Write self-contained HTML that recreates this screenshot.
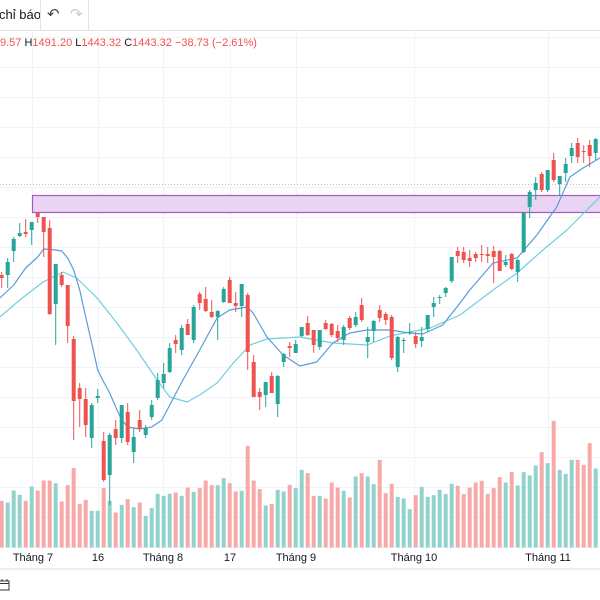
<!DOCTYPE html>
<html><head><meta charset="utf-8">
<style>
html,body{margin:0;padding:0;background:#fff;width:600px;height:600px;overflow:hidden;font-family:"Liberation Sans","Noto Sans CJK SC",sans-serif;}
#root{position:relative;width:600px;height:600px;}
.tb{position:absolute;left:0;top:0;width:600px;height:30px;border-bottom:1px solid #e0e3eb;}
.ohlc{position:absolute;left:0;top:37px;font-size:11px;color:#131722;white-space:nowrap;}
.ohlc .v{color:#ef5350;}
.ax{position:absolute;top:552px;font-size:11px;color:#131722;transform:translateX(-50%);white-space:nowrap;}
</style></head>
<body>
<div id="root">
  <div class="tb">
    <span style="position:absolute;left:-1px;top:7px;font-size:13px;color:#131722;">chỉ báo</span>
    <div style="position:absolute;left:40px;top:0;width:1px;height:30px;background:#e0e3eb;"></div>
    <span style="position:absolute;left:47px;top:5px;font-size:15px;color:#444;">↶</span>
    <span style="position:absolute;left:70px;top:5px;font-size:15px;color:#c8cbd2;">↷</span>
    <div style="position:absolute;left:88px;top:0;width:1px;height:30px;background:#e0e3eb;"></div>
  </div>
  <svg id="chart" width="600" height="600" style="position:absolute;left:0;top:0;">
    <g id="grid"></g>
    <line x1="0" x2="600" y1="184.5" y2="184.5" stroke="#f4a6a5" stroke-dasharray="1,2" stroke-width="1"/>
    <g id="vol"></g>
    <rect x="32.5" y="195.5" width="580" height="17" fill="#ead4f3" stroke="#a45ac4" stroke-width="1.2"/>
    <g id="ma"></g>
    <g id="candles"></g>
    <line x1="0" x2="600" y1="569" y2="569" stroke="#eceef2" stroke-width="2"/>
  </svg>
  <div class="ohlc"><span class="v">9.57</span> H<span class="v">1491.20</span> L<span class="v">1443.32</span> C<span class="v">1443.32</span> <span class="v">−38.73 (−2.61%)</span></div>
  <div class="ax" style="left:33px">Tháng 7</div>
  <div class="ax" style="left:98px">16</div>
  <div class="ax" style="left:163px">Tháng 8</div>
  <div class="ax" style="left:230px">17</div>
  <div class="ax" style="left:296px">Tháng 9</div>
  <div class="ax" style="left:414px">Tháng 10</div>
  <div class="ax" style="left:548px">Tháng 11</div>
  <svg width="14" height="14" style="position:absolute;left:-2px;top:578px;">
    <rect x="1" y="3" width="10" height="9" fill="none" stroke="#333" stroke-width="1"/>
    <line x1="1" x2="11" y1="5.5" y2="5.5" stroke="#333"/>
    <line x1="4" x2="4" y1="1" y2="3.5" stroke="#333"/><line x1="9" x2="9" y1="1" y2="3.5" stroke="#333"/>
  </svg>
</div>
<script>
const opens  = [1352,1352,1376,1391,1395,1397,1414,1410,1399,1323,1352,1342,1288,1239,1228,1189,1229,1186,1152,1198,1189,1215,1175,1207,1192,1210,1229,1244,1255,1287,1277,1303,1287,1333,1328,1315,1310,1325,1347,1324,1321,1332,1265,1235,1232,1251,1223,1265,1281,1274,1291,1304,1297,1280,1304,1303,1296,1287,1309,1302,1322,1285,1296,1317,1313,1310,1260,1286,1294,1291,1286,1298,1320,1329,1334,1346,1376,1375,1369,1373,1373,1373,1376,1376,1362,1373,1355,1375,1420,1437,1453,1437,1467,1443,1454,1471,1484,1476,1482,1474];
const highs  = [1355,1369,1390,1404,1408,1405,1415,1410,1407,1363,1355,1342,1291,1244,1239,1224,1238,1195,1194,1207,1222,1224,1199,1217,1202,1227,1254,1264,1284,1292,1302,1308,1322,1335,1340,1327,1317,1340,1350,1335,1343,1334,1272,1239,1245,1255,1252,1274,1285,1287,1300,1311,1297,1297,1307,1304,1302,1302,1311,1315,1329,1300,1307,1322,1315,1312,1291,1289,1304,1295,1300,1312,1330,1332,1340,1370,1380,1380,1377,1375,1382,1380,1381,1377,1372,1374,1368,1414,1437,1450,1455,1457,1474,1451,1469,1484,1489,1482,1487,1489];
const lows   = [1339,1339,1365,1390,1390,1382,1404,1370,1312,1282,1340,1284,1187,1200,1190,1179,1224,1145,1122,1182,1184,1182,1164,1195,1189,1207,1227,1239,1254,1274,1272,1292,1284,1317,1315,1309,1287,1324,1324,1315,1310,1257,1230,1217,1220,1234,1210,1260,1270,1274,1290,1291,1274,1277,1297,1290,1285,1282,1297,1300,1305,1269,1285,1305,1302,1267,1255,1274,1292,1279,1280,1295,1310,1323,1330,1344,1364,1364,1360,1365,1365,1364,1344,1356,1360,1357,1345,1374,1409,1427,1435,1435,1445,1432,1445,1464,1464,1464,1460,1467];
const closes = [1349,1365,1388,1394,1393,1405,1410,1395,1313,1363,1342,1301,1226,1228,1202,1222,1231,1147,1192,1189,1222,1185,1190,1198,1199,1222,1247,1253,1279,1283,1299,1292,1320,1324,1316,1310,1316,1338,1324,1321,1343,1275,1230,1230,1245,1234,1251,1273,1279,1283,1300,1292,1282,1297,1298,1292,1289,1300,1299,1310,1307,1290,1306,1309,1307,1269,1290,1287,1295,1283,1290,1312,1324,1330,1339,1370,1371,1367,1366,1369,1372,1371,1370,1356,1365,1358,1367,1414,1435,1444,1437,1457,1447,1451,1463,1479,1470,1475,1471,1488];
const volumes = [140,135,171,158,140,183,171,201,201,193,138,187,238,131,143,110,110,178,140,105,128,145,121,135,95,118,161,155,161,165,155,180,167,178,201,187,187,208,193,168,170,305,201,175,126,131,173,168,188,178,233,223,155,155,147,195,180,170,150,213,223,213,190,263,163,191,152,147,115,157,182,152,157,173,160,191,185,160,180,195,200,161,178,211,195,227,186,226,216,246,286,253,380,233,221,263,263,248,313,237];
const maFastIdx = [-0.3,2,4,6,7,9,10,11,12,13,14,15,16,17,18,19,20,21,23,25,26.7,30.2,33,35.9,38,40.9,41.9,44.2,46.9,49.7,52.5,55.2,58,60.9,64.7,68,70.2,73.5,76.4,78,81.9,85.9,89.2,92.5,94.7,96.9,99.7];
const maFastVal = [1329,1342,1359,1370,1378,1377,1376,1369,1357,1337,1310,1284,1257,1245,1234,1220,1207,1200,1198,1200,1207,1247,1277,1309,1317,1320,1314,1290,1272,1261,1265,1284,1294,1297,1297,1294,1293,1302,1324,1337,1364,1369,1392,1420,1450,1459,1469];
const maSlowIdx = [-0.3,3,6.9,10.2,12.5,15.9,19.2,22.5,25.9,28,30.9,33,35.9,38.6,41.4,44.2,49.7,55.2,60.9,64.7,71.4,76.4,81.9,85.9,90.2,94.2,99.7];
const maSlowVal = [1310,1327,1345,1355,1349,1329,1304,1277,1247,1230,1225,1232,1244,1264,1282,1288,1290,1284,1282,1291,1299,1312,1337,1354,1377,1397,1430];

const NS = 'http://www.w3.org/2000/svg';
function xS(i){ return 1.7 + 6*i; }
function yS(p){ return 1627 - p; }
function vS(v){ return 547.5 - v/3; }
function mk(tag, attrs, parent){
  const e = document.createElementNS(NS, tag);
  for (const k in attrs) e.setAttribute(k, attrs[k]);
  parent.appendChild(e); return e;
}
const grid = document.getElementById('grid');
[32,98,163,230,296,414,548].forEach(function(x){
  const l = mk('line',{x1:x+0.5,x2:x+0.5,y1:31,y2:548,stroke:'#f0f3fa','stroke-width':1},grid);
  
  
});
for (let y=37; y<548; y+=30){
  const l = mk('line',{x1:0,x2:600,y1:y+0.5,y2:y+0.5,stroke:'#f0f3fa','stroke-width':1},grid);
  
  
}
const vol = document.getElementById('vol');
volumes.forEach(function(v,i){
  const up = closes[i] >= opens[i];
  const top = vS(v);
  const r = mk('rect',{x:xS(i)-2,y:top,width:4,height:547.5-top,fill: up ? '#92d2cc' : '#f7a9a7'},vol);
  
  
});
const ma = document.getElementById('ma');
function line(idx, vals, color, name){
  const d = idx.map(function(ix,k){ return (k?'L':'M') + xS(ix).toFixed(1) + ' ' + yS(vals[k]).toFixed(1); }).join(' ');
  const p = mk('path',{d:d,fill:'none',stroke:color,'stroke-width':1.2,'stroke-linejoin':'round'},ma);
  
  
}
line(maSlowIdx, maSlowVal, '#6fd0de', 'slow-moving-average');
line(maFastIdx, maFastVal, '#5b9bd8', 'fast-moving-average');
const cg = document.getElementById('candles');
opens.forEach(function(o,i){
  const c = closes[i], up = c >= o;
  const col = up ? '#26a69a' : '#ef5350';
  const x = xS(i);
  const w = mk('line',{x1:x,x2:x,y1:yS(highs[i]),y2:yS(lows[i]),stroke:col,'stroke-width':1},cg);
  
  
  const t = yS(Math.max(o,c)), b = yS(Math.min(o,c));
  const r = mk('rect',{x:x-2,y:t,width:4,height:Math.max(1,b-t),fill:col},cg);
  
  
});
</script>
</body></html>
